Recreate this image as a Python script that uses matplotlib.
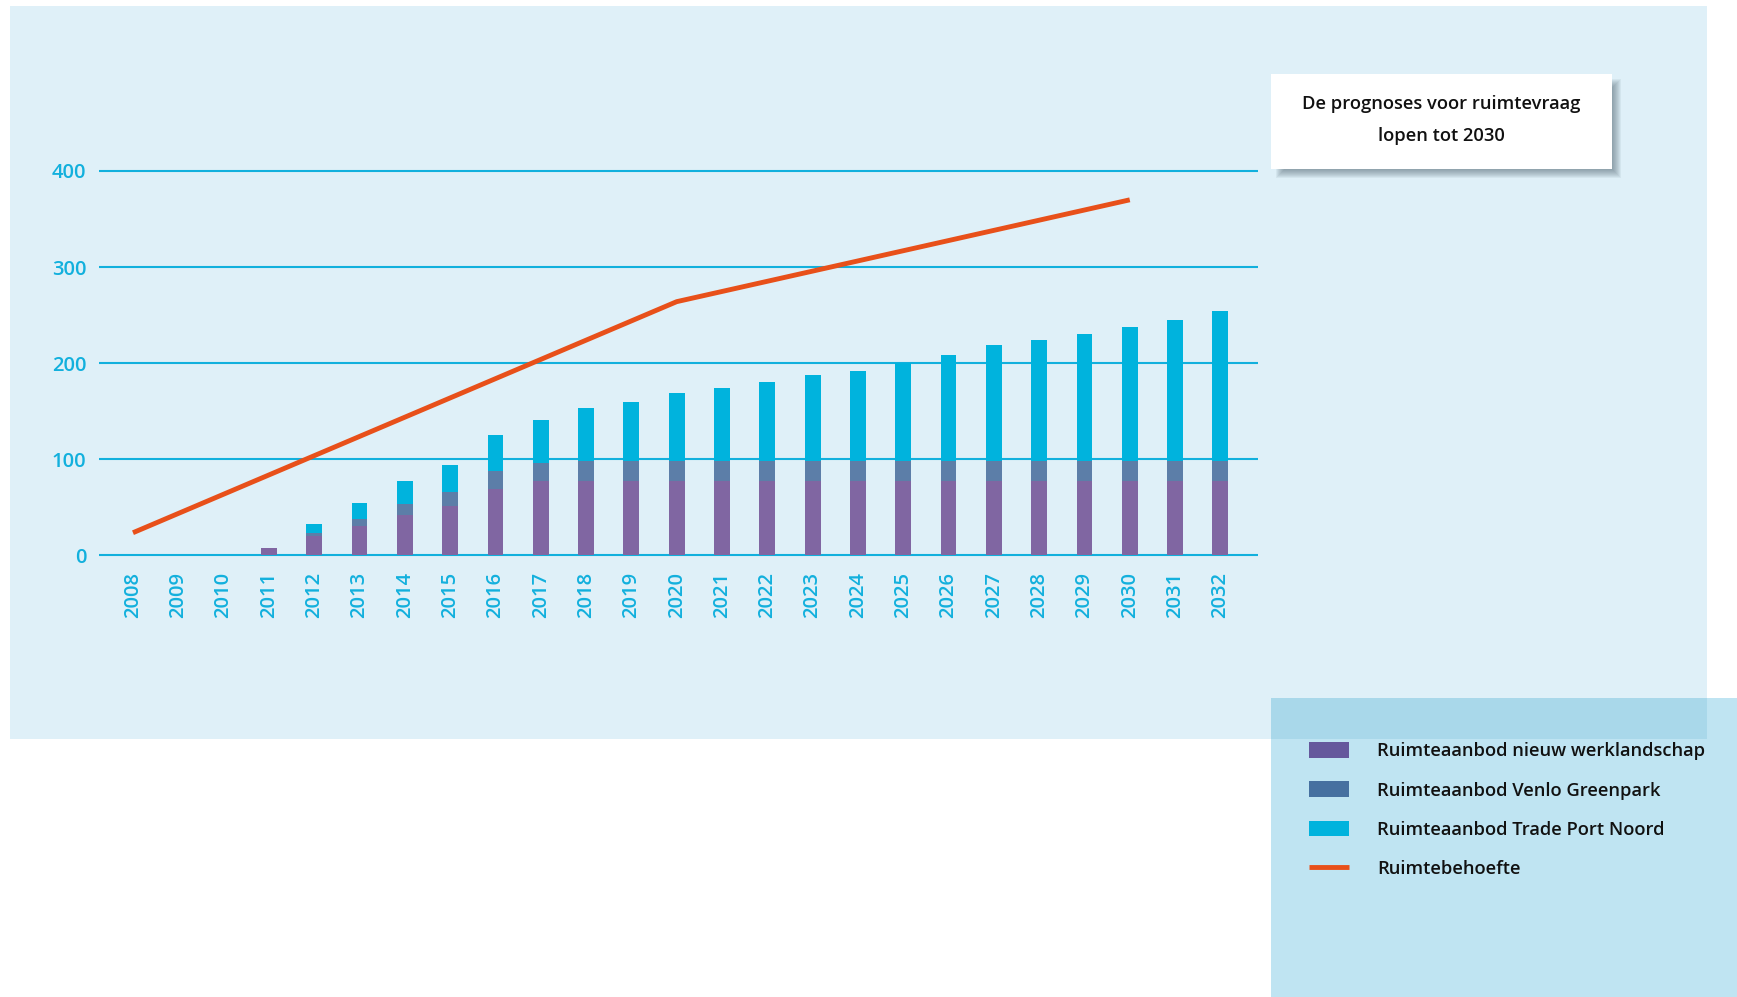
import matplotlib
matplotlib.use("Agg")
import matplotlib.pyplot as plt
from matplotlib.patches import Rectangle, Patch
from matplotlib.lines import Line2D

plt.rcParams["font.family"] = ["Open Sans", "DejaVu Sans"]

# data
years = list(range(2008, 2033))
nieuw_werklandschap = [0, 0, 0, 7.6, 20.1, 30.9, 42.0, 51.7, 69.0, 77.4, 77.4, 77.4, 77.4,
                       77.4, 77.4, 77.4, 77.4, 77.4, 77.4, 77.4, 77.4, 77.4, 77.4, 77.4, 77.4]
venlo_greenpark = [0, 0, 0, 0, 3.1, 6.9, 11.8, 14.2, 18.8, 18.7, 20.8, 20.8, 20.8,
                   20.8, 20.8, 20.8, 20.8, 20.8, 20.8, 20.8, 20.8, 20.8, 20.8, 20.8, 20.8]
trade_port_noord = [0, 0, 0, 0, 9.4, 16.7, 23.6, 28.1, 37.4, 44.8, 55.1, 61.4, 70.8,
                    75.9, 82.1, 89.4, 93.7, 101.6, 110.2, 120.6, 125.8, 132.1, 139.4, 146.7, 156.0]
demand_years = [2008, 2020, 2030]
ruimtebehoefte = [23.5, 264, 370]
yticks = [0, 100, 200, 300, 400]

labels = ["Ruimteaanbod nieuw werklandschap", "Ruimteaanbod Venlo Greenpark",
          "Ruimteaanbod Trade Port Noord", "Ruimtebehoefte"]
bar_colors = ["#8066a2", "#5c7ea8", "#00b3dd"]
legend_colors = ["#65589c", "#4670a0", "#00b3dd"]
line_color = "#e8501a"
tick_color = "#12b0dd"

W, H = 1737, 997
fig = plt.figure(figsize=(W / 100, H / 100), dpi=100, facecolor="white")

def fx(px):
    return px / W

def fy(py):
    return 1 - py / H

def box(x0, y0, x1, y1, color, z, alpha=1.0):
    # rectangle given in pixel coords of the picture (y down)
    r = Rectangle((fx(x0), fy(y1)), fx(x1) - fx(x0), fy(y0) - fy(y1),
                  transform=fig.transFigure, facecolor=color, edgecolor="none",
                  zorder=z, alpha=alpha)
    fig.patches.append(r)

# light blue panel behind the chart
box(10, 5.5, 1707, 739, "#dff0f8", 0)
# legend panel (bottom right) + darker overlap strip
box(1271, 698, W, H, "#bfe4f2", 0)
box(1271, 698, 1707, 739, "#a9d8ea", 0)

# note box with soft shadow
for k in range(10):
    box(1271 + 14 - k, 74 + 14 - k, 1612 + k, 169 + k, "#4f6470", 0.5, alpha=0.08)
box(1271, 74, 1612, 169, "white", 1)
fig.text(fx(1441), fy(104), "De prognoses voor ruimtevraag", ha="center", va="center",
         fontsize=13.2, fontweight="semibold", color="#111111", zorder=3)
fig.text(fx(1441), fy(136), "lopen tot 2030", ha="center", va="center",
         fontsize=13.2, fontweight="semibold", color="#111111", zorder=3)

ax = fig.add_axes([fx(99), fy(555.3), fx(1258) - fx(99), fy(171) - fy(555.3)])
ax.set_zorder(2)
ax.set_facecolor("none")
ax.set_xlim(2007.25, 2032.83)
ax.set_ylim(0, 400)

ax.hlines(yticks, 2007.25, 2032.83, colors=tick_color, linewidth=1.5, zorder=1,
          clip_on=False)

bw = 0.35
bottom2 = [a + b for a, b in zip(nieuw_werklandschap, venlo_greenpark)]
ax.bar(years, nieuw_werklandschap, width=bw, color=bar_colors[0], zorder=2)
ax.bar(years, venlo_greenpark, width=bw, bottom=nieuw_werklandschap, color=bar_colors[1], zorder=2)
ax.bar(years, trade_port_noord, width=bw, bottom=bottom2, color=bar_colors[2], zorder=2)
ax.plot(demand_years, ruimtebehoefte, color=line_color, linewidth=3.5, zorder=3,
        solid_capstyle="butt")

for s in ax.spines.values():
    s.set_visible(False)
ax.set_yticks(yticks)
ax.set_yticklabels([str(v) for v in yticks], fontweight="semibold")
ax.set_xticks(years)
ax.set_xticklabels([str(y) for y in years], rotation=90, fontweight="semibold")
ax.tick_params(axis="y", length=0, pad=9, labelsize=14.5, labelcolor=tick_color)
ax.tick_params(axis="x", length=0, pad=12, labelsize=14.5, labelcolor=tick_color)

handles = [Patch(facecolor=c, edgecolor="none") for c in legend_colors]
handles.append(Line2D([0], [0], color=line_color, linewidth=3.5, solid_capstyle="butt"))
leg = fig.legend(handles, labels, loc="upper left", bbox_to_anchor=(fx(1309), fy(742)),
                 frameon=False, handlelength=2.2, handleheight=0.95,
                 handletextpad=1.5, labelspacing=1.15, borderpad=0, borderaxespad=0,
                 prop={"size": 13.2, "weight": "semibold"}, labelcolor="#111111")
leg.set_zorder(3)

fig.savefig("out.png", dpi=100, facecolor="white")
